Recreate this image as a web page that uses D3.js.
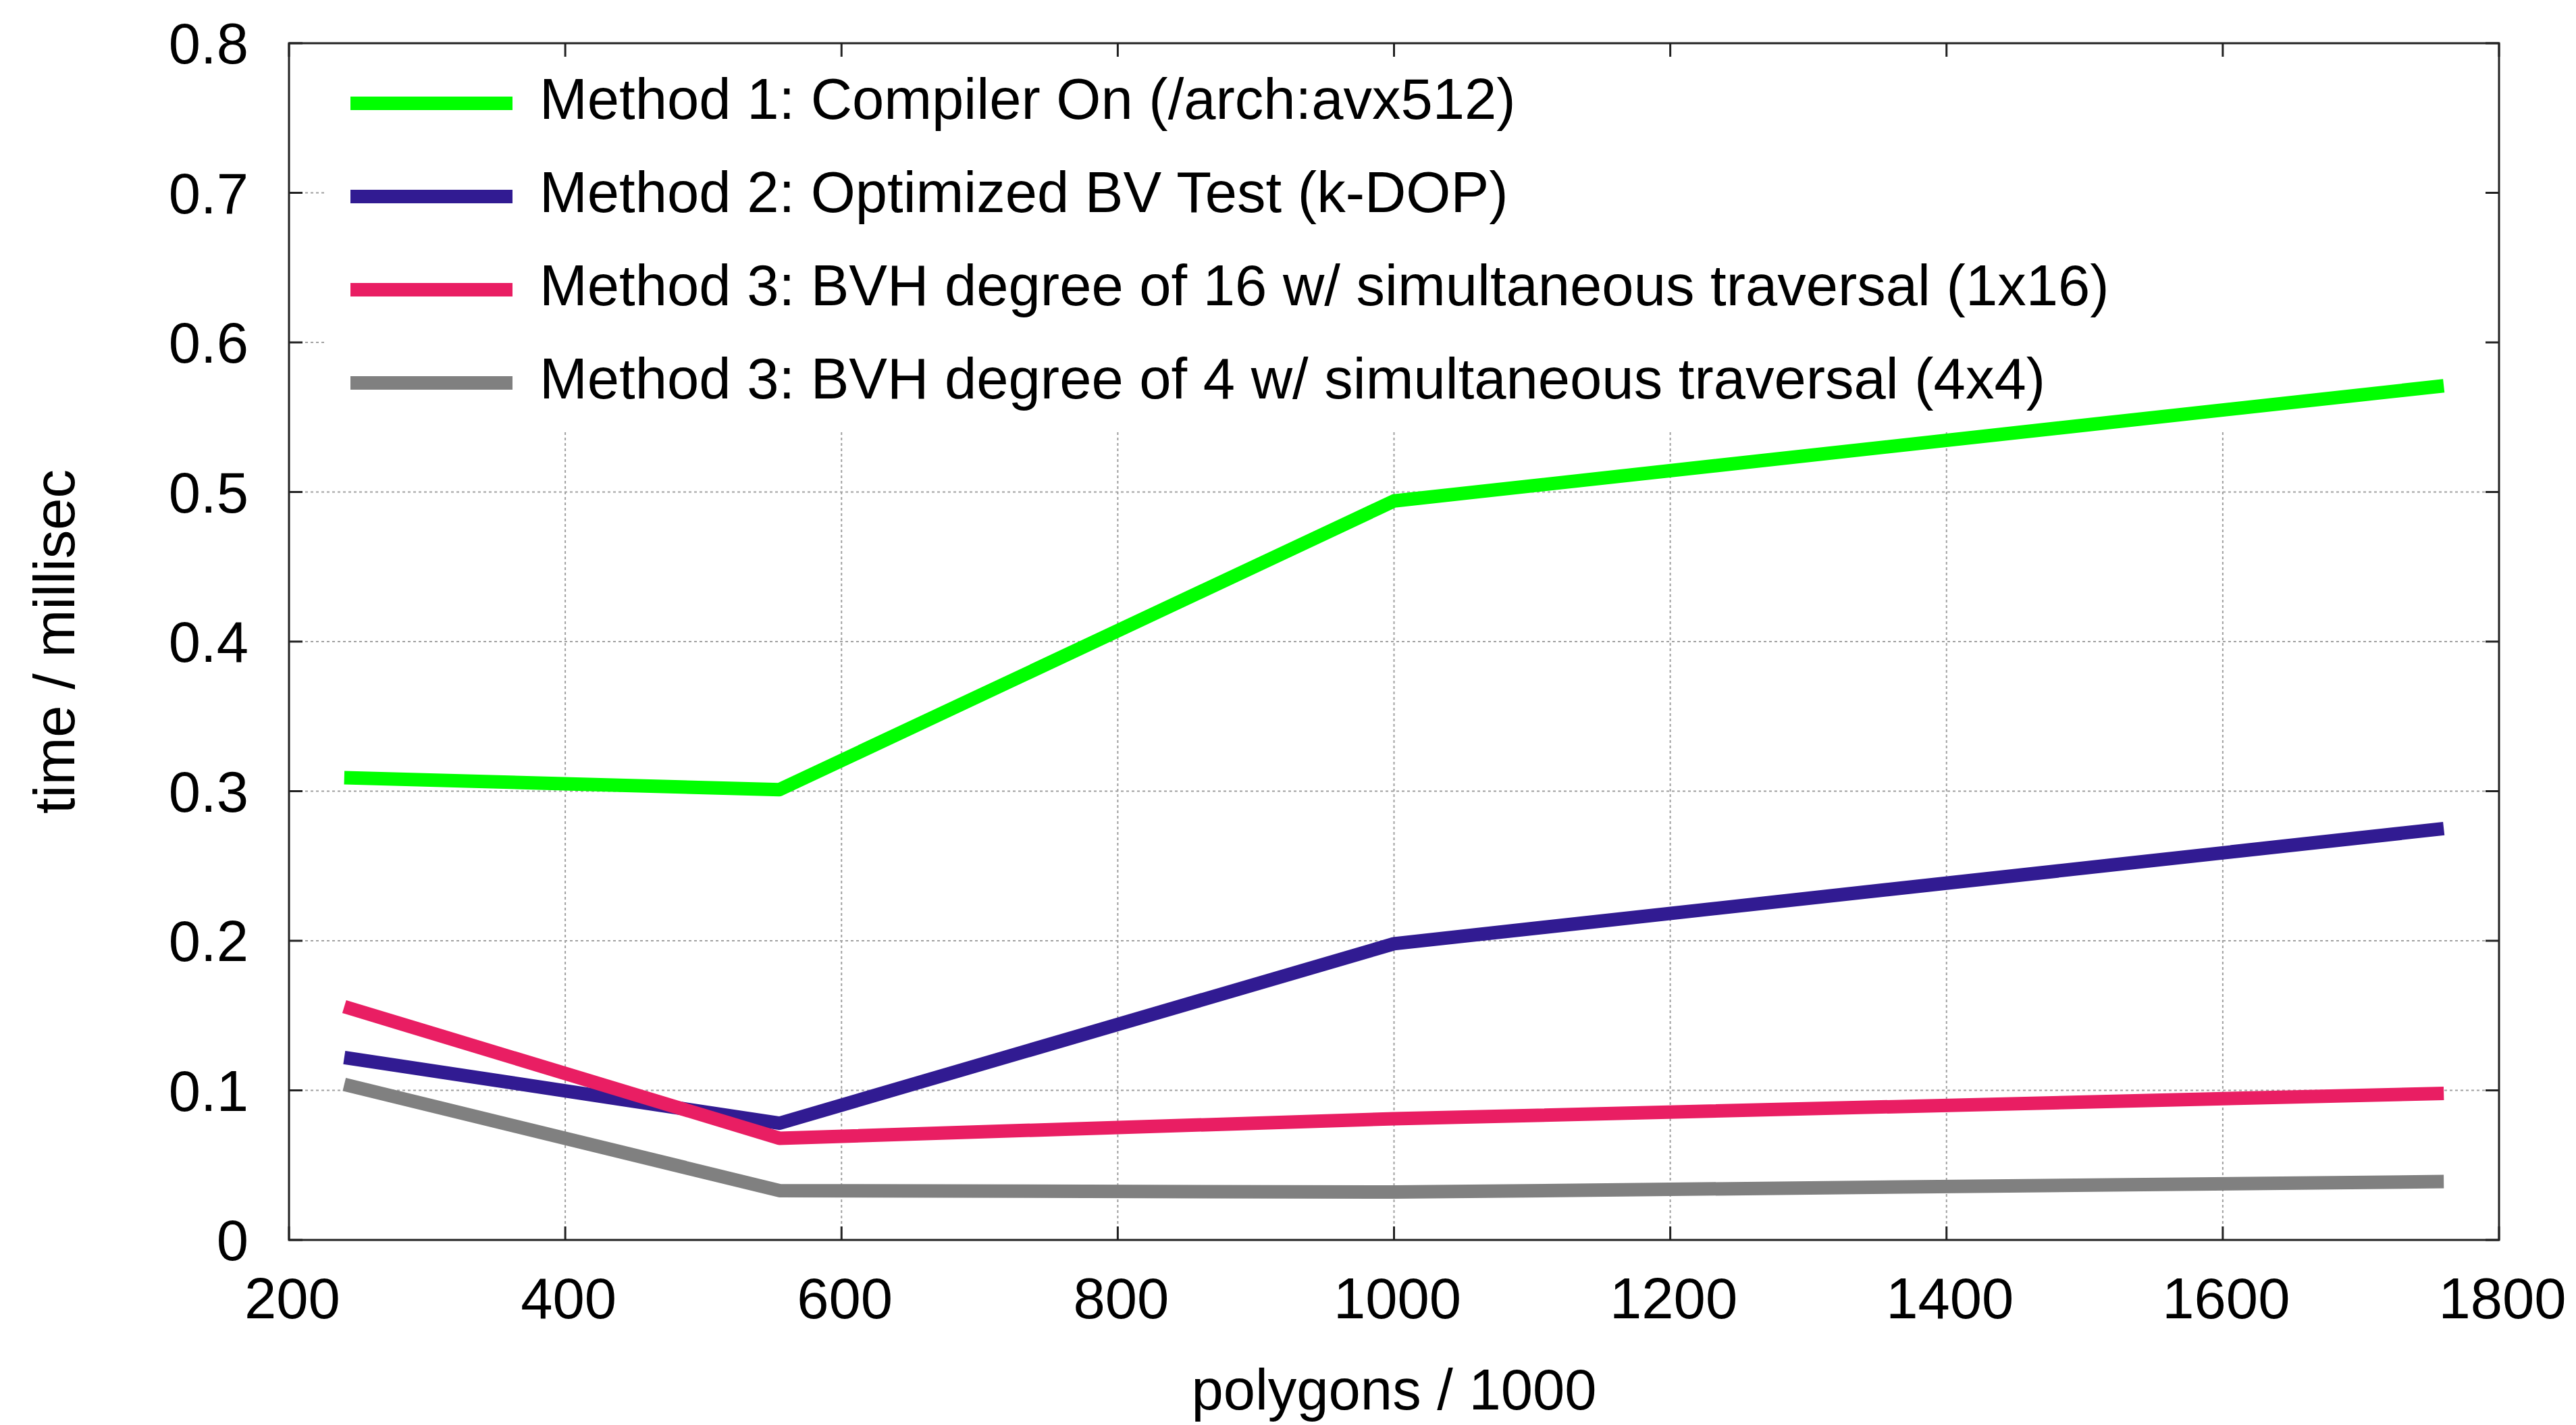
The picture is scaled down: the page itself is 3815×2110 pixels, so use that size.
<!DOCTYPE html>
<html>
<head>
<meta charset="utf-8">
<script src="https://cdn.jsdelivr.net/npm/d3@7"></script>
<style>
  html, body { margin: 0; padding: 0; background: #fff; }
  svg { display: block; }
  text { font-family: "Liberation Sans", Arial, sans-serif; fill: #000; }
</style>
</head>
<body>
<svg id="chart" width="3815" height="2110"></svg>
<script>
// ---- data ----
const polygons = [240, 555, 1000, 1760];
const method1 = [0.309, 0.301, 0.494, 0.571];
const method2 = [0.122, 0.078, 0.198, 0.275];
const method3a = [0.156, 0.068, 0.081, 0.098];
const method3b = [0.104, 0.033, 0.032, 0.039];
const seriesNames = [
  "Method 1: Compiler On (/arch:avx512)",
  "Method 2: Optimized BV Test (k-DOP)",
  "Method 3: BVH degree of 16 w/ simultaneous traversal (1x16)",
  "Method 3: BVH degree of 4 w/ simultaneous traversal (4x4)"
];
const seriesColors = ["#00ff00", "#311b92", "#e91e63", "#808080"];
const xTicks = [200, 400, 600, 800, 1000, 1200, 1400, 1600, 1800];
const yTicks = [0, 0.1, 0.2, 0.3, 0.4, 0.5, 0.6, 0.7, 0.8];
const xTitle = "polygons / 1000";
const yTitle = "time / millisec";

// ---- layout ----
const L = 428, R = 3701, T = 64, B = 1836;
const fs = 85;
const svg = d3.select("#chart");

const x = d3.scaleLinear().domain([200, 1800]).range([L, R]);
const y = d3.scaleLinear().domain([0, 0.8]).range([B, T]);

// grid
const grid = svg.append("g").attr("stroke", "#a0a0a0").attr("stroke-width", 2).attr("stroke-dasharray", "4,4");
grid.selectAll("line.gx").data(xTicks.slice(1, -1)).enter().append("line")
  .attr("x1", d => x(d)).attr("x2", d => x(d)).attr("y1", B).attr("y2", T);
grid.selectAll("line.gy").data(yTicks.slice(1, -1)).enter().append("line")
  .attr("x1", L).attr("x2", R).attr("y1", d => y(d)).attr("y2", d => y(d));

// opaque key box (hides grid behind legend)
svg.append("rect").attr("x", 481).attr("y", T + 2).attr("width", 3680 - 481).attr("height", 640 - T - 2).attr("fill", "#fff");

// series lines
const data = [method1, method2, method3a, method3b];
const line = d3.line().x((d, i) => x(polygons[i])).y(d => y(d));
svg.append("g").selectAll("path").data(data).enter().append("path")
  .attr("d", d => line(d))
  .attr("fill", "none")
  .attr("stroke", (d, i) => seriesColors[i])
  .attr("stroke-width", 20)
  .attr("stroke-linejoin", "round")
  .attr("stroke-linecap", "butt");

// frame and ticks
const axisG = svg.append("g").attr("stroke", "#222").attr("stroke-width", 3);
axisG.append("rect").attr("x", L).attr("y", T).attr("width", R - L).attr("height", B - T).attr("fill", "none");
const tl = 20;
axisG.selectAll("line.xb").data(xTicks).enter().append("line")
  .attr("x1", d => x(d)).attr("x2", d => x(d)).attr("y1", B).attr("y2", B - tl);
axisG.selectAll("line.xt").data(xTicks).enter().append("line")
  .attr("x1", d => x(d)).attr("x2", d => x(d)).attr("y1", T).attr("y2", T + tl);
axisG.selectAll("line.yl").data(yTicks).enter().append("line")
  .attr("x1", L).attr("x2", L + tl).attr("y1", d => y(d)).attr("y2", d => y(d));
axisG.selectAll("line.yr").data(yTicks).enter().append("line")
  .attr("x1", R).attr("x2", R - tl).attr("y1", d => y(d)).attr("y2", d => y(d));

// tick labels
svg.append("g").selectAll("text").data(xTicks).enter().append("text")
  .attr("x", d => x(d) + 5).attr("y", 1952)
  .attr("text-anchor", "middle").attr("font-size", fs)
  .text(d => d);
svg.append("g").selectAll("text").data(yTicks).enter().append("text")
  .attr("x", 368).attr("y", d => y(d) + 30)
  .attr("text-anchor", "end").attr("font-size", fs)
  .text(d => d === 0 ? "0" : d3.format(".1f")(d));

// axis titles
svg.append("text").attr("x", (L + R) / 2).attr("y", 2087)
  .attr("text-anchor", "middle").attr("font-size", fs).text(xTitle);
svg.append("text").attr("transform", `translate(110, ${(T + B) / 2}) rotate(-90)`)
  .attr("text-anchor", "middle").attr("font-size", fs).text(yTitle);

// legend
const legY = [153, 291, 429, 567];
const leg = svg.append("g");
leg.selectAll("line").data(seriesNames).enter().append("line")
  .attr("x1", 519).attr("x2", 759)
  .attr("y1", (d, i) => legY[i]).attr("y2", (d, i) => legY[i])
  .attr("stroke", (d, i) => seriesColors[i]).attr("stroke-width", 20);
leg.selectAll("text").data(seriesNames).enter().append("text")
  .attr("x", 799).attr("y", (d, i) => legY[i] + 23)
  .attr("font-size", fs).text(d => d);
</script>
</body>
</html>
